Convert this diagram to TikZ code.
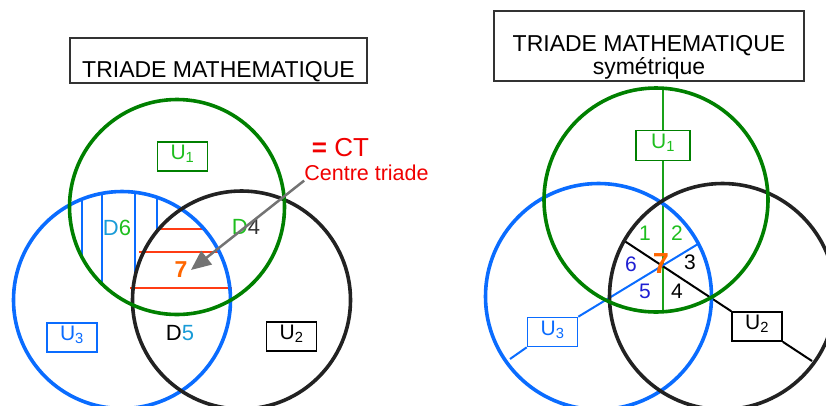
\documentclass[tikz,border=0pt]{standalone}
\usepackage{fontspec}
\setmainfont{Liberation Sans}
\usepackage{tikz}
\usetikzlibrary{arrows.meta}
\definecolor{tgreen}{RGB}{0,128,0}
\definecolor{lgreen}{RGB}{30,190,30}
\definecolor{tblue}{RGB}{10,108,255}
\definecolor{cblue}{RGB}{25,155,215}
\definecolor{dblue}{RGB}{30,30,210}
\definecolor{torange}{RGB}{255,102,0}
\definecolor{tred}{RGB}{240,0,0}
\definecolor{hred}{RGB}{255,60,20}
\definecolor{tblack}{RGB}{34,34,34}
\tikzstyle{ring} = [line width=3.6pt]
\tikzstyle{u_box} = [rectangle, draw, fill=white, line width=1.6pt, minimum width=50pt, minimum height=29pt, inner sep=0pt, text height=15pt, text depth=8.5pt, font=\fontsize{21}{21}\selectfont]
\tikzstyle{title_box} = [rectangle, draw=black!80, line width=1.3pt, inner sep=0pt, font=\fontsize{23}{23}\selectfont]
\tikzstyle{d_lab} = [font=\fontsize{22}{22}\selectfont]
\tikzstyle{num_lab} = [font=\fontsize{21}{21}\selectfont]
\tikzstyle{centre} = [text=torange, font=\fontsize{29}{29}\selectfont\bfseries]
\tikzstyle{hatch_v} = [draw=tblue, line width=1.5pt]
\tikzstyle{hatch_h} = [draw=hred, line width=1.5pt]
\tikzstyle{sector_line} = [draw, line width=2pt]
\tikzstyle{pointer} = [draw=black!55, line width=2.5pt, -{Triangle[length=20pt, width=17pt]}]

\begin{document}
\begin{tikzpicture}[x=1pt, y=-1pt]
	\useasboundingbox (0,0) rectangle (826,405);

	\node [title_box, minimum width=297pt, text height=39pt, text depth=6pt] (titleL) at (218.5,60.5) {TRIADE MATHEMATIQUE};

	\coordinate (G1) at (177,207);
	\coordinate (B1) at (122,300);
	\coordinate (K1) at (241.5,300);

	\draw [hatch_v] (82,199) -- (82,255);
	\draw [hatch_v] (102,193) -- (102,285);
	\draw [hatch_v] (135,192) -- (135,282);
	\draw [hatch_v] (157,197) -- (157,229);
	\draw [hatch_h] (157,229) -- (206,229);
	\draw [hatch_h] (139,252) -- (221,252);
	\draw [hatch_h] (130,288) -- (232,288);

	\draw [ring, tblue] (B1) circle (108.5pt);
	\draw [ring, tblack] (K1) circle (109pt);
	\draw [ring, tgreen] (G1) circle (107.5pt);

	\node [u_box, draw=tgreen, text=lgreen] (u1L) at (182.5,156.5) {U\textsubscript{1}};
	\node [u_box, draw=tblue, text=tblue] (u3L) at (72,337.5) {U\textsubscript{3}};
	\node [u_box, draw=black, text=black] (u2L) at (291.5,336.5) {U\textsubscript{2}};

	\node [d_lab] (d6) at (117,228) {\textcolor{cblue}{D}\textcolor{lgreen}{6}};
	\node [d_lab] (d4) at (246,227) {\textcolor{lgreen}{D}\textcolor{black!80}{4}};
	\node [d_lab] (d5) at (180,333) {D\textcolor{cblue}{5}};
	\node [centre, font=\fontsize{23}{23}\selectfont\bfseries] (sevenL) at (181,270) {7};

	\node [text=tred, inner sep=0pt, font=\fontsize{26}{26}\selectfont] (ct) at (340.5,147.5) {\textbf{=} CT};
	\node [text=tred, inner sep=0pt, font=\fontsize{21.5}{21.5}\selectfont, below of=ct, node distance=25pt, xshift=26pt] (ctr) {Centre triade};
	\path [pointer] (ctr.south west) to (sevenL.east);

	\node [title_box, align=center, minimum width=310pt, minimum height=70pt] (titleR) at (649,46) {\rule{0pt}{40pt}TRIADE MATHEMATIQUE\\sym\'etrique\rule[-7pt]{0pt}{7pt}};

	\coordinate (G2) at (656,200);
	\coordinate (B2) at (598.5,296.5);
	\coordinate (K2) at (722.5,296.5);

	\node [u_box, draw=tgreen, text=lgreen, minimum width=54pt, minimum height=30pt] (u1R) at (663,145.5) {U\textsubscript{1}};
	\node [u_box, draw=black, text=black] (u2R) at (757,326.5) {U\textsubscript{2}};
	\node [u_box, draw=tblue, text=tblue] (u3R) at (552.5,332) {U\textsubscript{3}};

	\coordinate (g2a) at (663,88);
	\coordinate (g2b) at (663,311);
	\coordinate (k2a) at (623,240);
	\coordinate (k2b) at (812,361);
	\coordinate (b2a) at (698,244);
	\coordinate (b2b) at (510,359);

	\path [sector_line, lgreen!85!black, line width=1.5pt] (g2a) -- (g2a |- u1R.north);
	\path [sector_line, lgreen!85!black, line width=1.5pt] (g2b |- u1R.south) -- (g2b);
	\path [sector_line, black] (k2a) -- (u2R.north west);
	\path [sector_line, black] (u2R.south east) -- (k2b);
	\path [sector_line, tblue] (b2a) -- (u3R.north east);
	\path [sector_line, tblue] (u3R.south west) -- (b2b);

	\draw [ring, tblue] (B2) circle (113pt);
	\draw [ring, tblack] (K2) circle (113pt);
	\draw [ring, tgreen] (G2) circle (112pt);

	\node [num_lab, text=lgreen] (n1) at (645,233) {1};
	\node [num_lab, text=lgreen] (n2) at (677,233) {2};
	\node [num_lab, text=black] (n3) at (690,262) {3};
	\node [num_lab, text=black] (n4) at (677,291) {4};
	\node [num_lab, text=dblue] (n5) at (645,291) {5};
	\node [num_lab, text=dblue] (n6) at (631,264) {6};
	\node [centre] (n7) at (661,264) {7};
\end{tikzpicture}
\end{document}
